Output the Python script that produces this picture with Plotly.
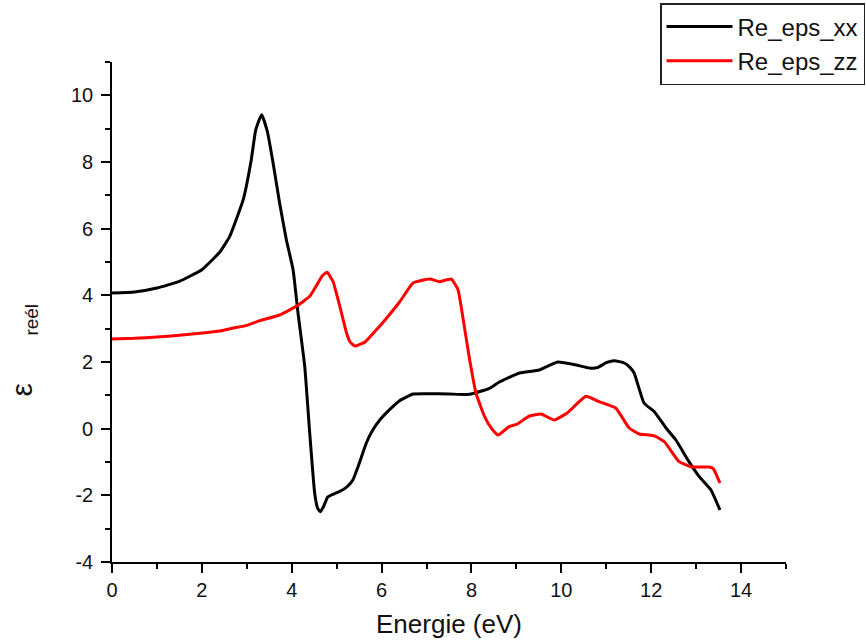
import plotly.graph_objects as go

# ---- data ----
energy_xx = [0, 0.5, 1.0, 1.5, 2.0, 2.4, 2.62, 2.92, 3.10, 3.20, 3.33, 3.46, 3.6, 3.73,
             3.88, 4.03, 4.14, 4.29, 4.40, 4.51, 4.58, 4.64, 4.72, 4.80, 4.88, 5.0, 5.13,
             5.25, 5.36, 5.5, 5.66, 5.8, 5.96, 6.2, 6.4, 6.7, 7.0, 7.5, 7.96, 8.4, 8.62,
             9.07, 9.51, 9.92, 10.33, 10.62, 10.8, 11.0, 11.18, 11.4, 11.51, 11.62, 11.84,
             12.07, 12.33, 12.55, 12.84, 13.07, 13.33, 13.53]
re_eps_xx = [4.07, 4.1, 4.22, 4.42, 4.77, 5.3, 5.77, 6.87, 8.07, 8.97, 9.42, 8.9, 7.85,
             6.77, 5.67, 4.77, 3.47, 1.86, -0.13, -1.93, -2.4, -2.49, -2.3, -2.05, -1.99,
             -1.92, -1.84, -1.72, -1.54, -1.05, -0.43, -0.05, 0.26, 0.6, 0.84, 1.04, 1.05,
             1.04, 1.03, 1.21, 1.40, 1.67, 1.76, 2.0, 1.91, 1.82, 1.83, 1.98, 2.04, 1.97,
             1.86, 1.67, 0.77, 0.51, 0.02, -0.34, -0.99, -1.44, -1.84, -2.44]

energy_zz = [0, 0.5, 1.0, 1.5, 1.96, 2.4, 2.7, 3.0, 3.29, 3.73, 4.1, 4.4, 4.54, 4.69, 4.79,
             4.92, 5.07, 5.22, 5.3, 5.4, 5.64, 5.92, 6.1, 6.4, 6.7, 7.07, 7.29, 7.55, 7.70,
             7.84, 7.96, 8.10, 8.29, 8.45, 8.59, 8.84, 9.02, 9.29, 9.55, 9.84, 10.13, 10.35,
             10.55, 10.84, 11.21, 11.51, 11.73, 11.96, 12.1, 12.3, 12.62, 12.91, 13.29,
             13.38, 13.53]
re_eps_zz = [2.69, 2.71, 2.75, 2.8, 2.86, 2.93, 3.02, 3.1, 3.24, 3.41, 3.67, 3.97, 4.27,
             4.6, 4.69, 4.41, 3.67, 2.87, 2.6, 2.48, 2.61, 3.02, 3.3, 3.8, 4.37, 4.49, 4.41,
             4.49, 4.17, 3.07, 2.07, 1.07, 0.37, 0.0, -0.19, 0.06, 0.14, 0.38, 0.44, 0.26,
             0.47, 0.75, 0.97, 0.81, 0.62, 0.02, -0.16, -0.19, -0.23, -0.4, -0.99, -1.15,
             -1.15, -1.2, -1.63]

x_ticks = [0, 2, 4, 6, 8, 10, 12, 14]
y_ticks = [-4, -2, 0, 2, 4, 6, 8, 10]

FONT = "Arial, Liberation Sans, sans-serif"

fig = go.Figure()
fig.add_trace(go.Scatter(x=energy_xx, y=re_eps_xx, mode="lines", name="Re_eps_xx",
                         line=dict(color="#000000", width=3, shape="spline", smoothing=0.4)))
fig.add_trace(go.Scatter(x=energy_zz, y=re_eps_zz, mode="lines", name="Re_eps_zz",
                         line=dict(color="#ff0000", width=3, shape="spline", smoothing=0.4)))

axis_common = dict(showgrid=False, zeroline=False, showline=True, linecolor="black",
                   linewidth=1.6, ticks="outside", ticklen=9, tickwidth=1.6,
                   tickcolor="black", tickfont=dict(family=FONT, size=20, color="#111"))

fig.update_xaxes(range=[0, 15], tickvals=x_ticks, ticktext=[str(v) for v in x_ticks],
                 minor=dict(dtick=1, tick0=0, ticks="outside", ticklen=5, tickwidth=1.6,
                            tickcolor="black"),
                 title=dict(text="Energie (eV)", font=dict(family=FONT, size=26, color="#111"),
                            standoff=15),
                 **axis_common)
fig.update_yaxes(range=[-4, 11], tickvals=y_ticks, ticktext=[str(v) for v in y_ticks],
                 minor=dict(dtick=1, tick0=0, ticks="outside", ticklen=5, tickwidth=1.6,
                            tickcolor="black"),
                 ticklabelstandoff=4,
                 **axis_common)

fig.add_annotation(text="ε<sub><span style='font-size:19px'>" + "\u00a0" * 9 + "reél</span></sub>",
                   xref="paper", yref="paper",
                   x=(2 - 112) / 674, y=(562 - 350) / 500, textangle=-90,
                   showarrow=False, font=dict(family=FONT, size=30, color="#111"))

fig.update_layout(
    width=866, height=644,
    margin=dict(l=112, r=80, t=62, b=82, autoexpand=False),
    paper_bgcolor="white", plot_bgcolor="white",
    showlegend=True,
    legend=dict(x=(660 - 112) / 674, y=(562 - 3) / 500, xanchor="left", yanchor="top",
                bordercolor="#222", borderwidth=1.5, bgcolor="white",
                font=dict(family=FONT, size=24, color="#111"), tracegroupgap=0,
                itemwidth=66),
)

fig.write_html("out.html")
